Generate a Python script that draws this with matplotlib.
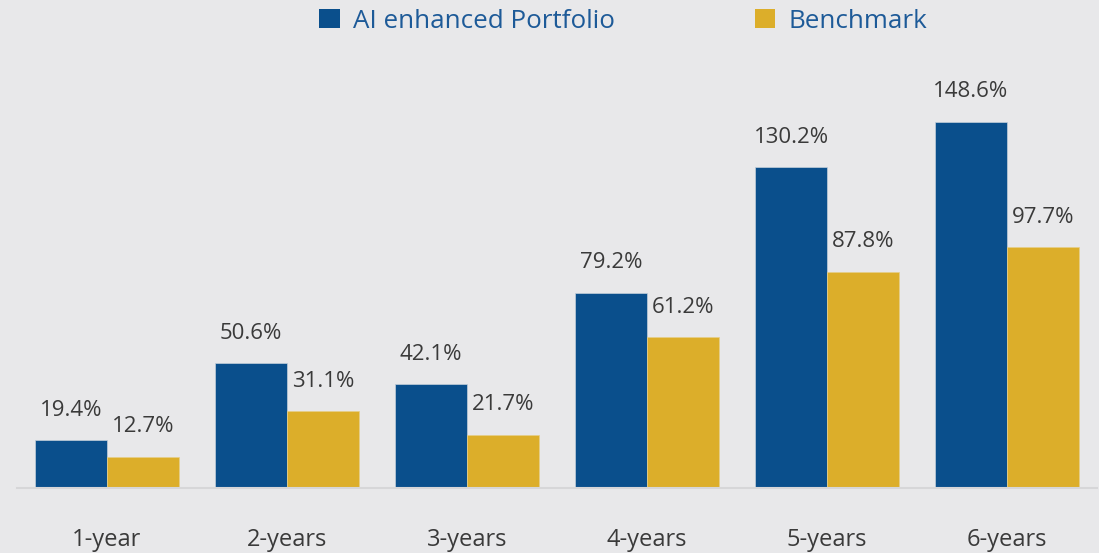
import matplotlib
matplotlib.use("Agg")
import matplotlib.pyplot as plt
from matplotlib.patches import Patch
import numpy as np

categories = ["1-year", "2-years", "3-years", "4-years", "5-years", "6-years"]
ai_portfolio = [19.4, 50.6, 42.1, 79.2, 130.2, 148.6]
benchmark = [12.7, 31.1, 21.7, 61.2, 87.8, 97.7]
series_names = ["AI enhanced Portfolio", "Benchmark"]

BG = "#e8e8ea"
BLUE = "#0a4f8c"
GOLD = "#dcae2a"
TEXT = "#3a3a3a"
LEGEND_TEXT = "#1d5a98"

plt.rcParams["font.family"] = ["Open Sans", "DejaVu Sans"]

fig = plt.figure(figsize=(10.99, 5.53), dpi=100, facecolor=BG)
ax = fig.add_axes([17/1099, 1-488/553, 1080/1099, 438/553])
ax.set_facecolor(BG)

x = np.arange(len(categories))
w = 0.4
b1 = ax.bar(x - w/2, ai_portfolio, w, color=BLUE, edgecolor="#c4cfdb", linewidth=0.5)
b2 = ax.bar(x + w/2, benchmark, w, color=GOLD, edgecolor="#e6cf8a", linewidth=0.5)

for bars, vals in ((b1, ai_portfolio), (b2, benchmark)):
    for r, v in zip(bars, vals):
        ax.annotate(f"{v:.1f}%", (r.get_x() + r.get_width()/2, r.get_height()),
                    xytext=(0, 21.6), textcoords="offset points",
                    ha="center", va="center", fontsize=16, color=TEXT,
                    annotation_clip=False)

ax.set_xlim(-0.5, 5.5)
ax.set_ylim(0, 177.8)
ax.set_xticks(x)
ax.set_xticklabels(categories, fontsize=17, color=TEXT)
ax.tick_params(axis="x", length=0, pad=29)
ax.set_yticks([])
for s in ["top", "right", "left"]:
    ax.spines[s].set_visible(False)
ax.spines["bottom"].set_color("#d6d6d8")
ax.spines["bottom"].set_linewidth(1.5)

handles = [Patch(facecolor=BLUE), Patch(facecolor=GOLD)]
leg = fig.legend(handles, series_names, loc="center", bbox_to_anchor=(0.567, 1-21/553),
                 ncol=2, frameon=False, fontsize=18.7, handlelength=0.78, handleheight=0.78,
                 handletextpad=0.5, columnspacing=5.4)
for t in leg.get_texts():
    t.set_color(LEGEND_TEXT)

fig.savefig("out.png", dpi=100, facecolor=BG)
